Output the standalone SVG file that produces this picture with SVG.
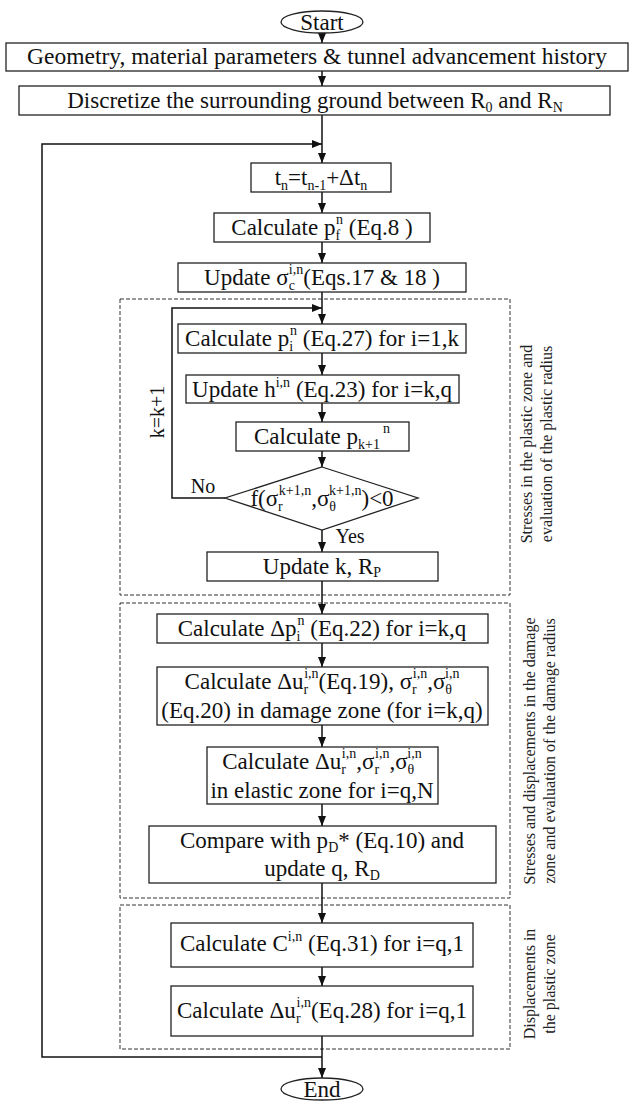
<svg xmlns="http://www.w3.org/2000/svg" width="633" height="1102" viewBox="0 0 633 1102">
<style>
text{font-family:"Liberation Serif","Times New Roman",serif;font-size:23px;fill:#111;text-anchor:middle}
.s{font-size:14px}
.lbl{font-size:20px}
.side{font-size:16px;fill:#222}
.box{fill:#fff;stroke:#222;stroke-width:1.3}
.dash{fill:none;stroke:#333;stroke-width:1;stroke-dasharray:4,2}
.con{fill:none;stroke:#111;stroke-width:1.5}
</style>
<defs>
<marker id="ah" markerUnits="userSpaceOnUse" markerWidth="10" markerHeight="8" refX="10" refY="4" orient="auto">
<path d="M0,0 L10,4 L0,8 z" fill="#111"/>
</marker>
</defs>

<g id="zones">
<rect class="dash" x="120" y="299" width="390" height="296"/>
<rect class="dash" x="120" y="603" width="390" height="295"/>
<rect class="dash" x="120" y="905" width="390" height="144"/>
</g>

<g id="connectors">
<path class="con" d="M322,33 V43" marker-end="url(#ah)"/>
<path class="con" d="M322,71 V86" marker-end="url(#ah)"/>
<path class="con" d="M322,115 V163" marker-end="url(#ah)"/>
<path class="con" d="M322,1057 H42 V144 H322" marker-end="url(#ah)"/>
<path class="con" d="M322,192 V213" marker-end="url(#ah)"/>
<path class="con" d="M322,242 V263" marker-end="url(#ah)"/>
<path class="con" d="M322,292 V324" marker-end="url(#ah)"/>
<path class="con" d="M225,498 H172 V308 H322" marker-end="url(#ah)"/>
<path class="con" d="M322,353 V375" marker-end="url(#ah)"/>
<path class="con" d="M322,403 V422" marker-end="url(#ah)"/>
<path class="con" d="M322,451 V467" marker-end="url(#ah)"/>
<path class="con" d="M322,530 V552" marker-end="url(#ah)"/>
<path class="con" d="M322,581 V614" marker-end="url(#ah)"/>
<path class="con" d="M322,643 V667" marker-end="url(#ah)"/>
<path class="con" d="M322,725 V747" marker-end="url(#ah)"/>
<path class="con" d="M322,804 V826" marker-end="url(#ah)"/>
<path class="con" d="M322,883 V923" marker-end="url(#ah)"/>
<path class="con" d="M322,967 V986" marker-end="url(#ah)"/>
<path class="con" d="M322,1036 V1078" marker-end="url(#ah)"/>
<text class="lbl" x="203" y="493">No</text>
<text class="lbl" x="350" y="543">Yes</text>
<text class="lbl" transform="translate(164,412) rotate(-90)">k=k+1</text>
</g>

<g id="start">
<ellipse class="box" cx="322" cy="22" rx="41" ry="11"/>
<text x="322" y="30">Start</text>
</g>

<g id="input">
<rect class="box" x="6" y="43" width="622" height="28"/>
<text x="317" y="64" style="font-size:23.5px">Geometry, material parameters &amp; tunnel advancement history</text>
</g>

<g id="discretize">
<rect class="box" x="19" y="86" width="591" height="29"/>
<text x="315" y="108">Discretize the surrounding ground between R<tspan class="s" dy="4">0</tspan><tspan dy="-4"> and R</tspan><tspan class="s" dy="4">N</tspan></text>
</g>

<g id="time">
<rect class="box" x="251" y="163" width="140" height="29"/>
<text x="321" y="185">t<tspan class="s" dy="5">n</tspan><tspan dy="-5">=t</tspan><tspan class="s" dy="5">n-1</tspan><tspan dy="-5">+Δt</tspan><tspan class="s" dy="5">n</tspan></text>
</g>

<g id="pf">
<rect class="box" x="214" y="213" width="216" height="29"/>
<text x="322" y="235">Calculate p<tspan class="s" dy="5">f</tspan><tspan class="s" dx="-4" dy="-16">n</tspan><tspan dy="11"> (Eq.8 )</tspan></text>
</g>

<g id="sigmac">
<rect class="box" x="178" y="263" width="288" height="29"/>
<text x="322" y="285">Update σ<tspan class="s" dy="5">c</tspan><tspan class="s" dx="-6" dy="-16">i,n</tspan><tspan dy="11">(Eqs.17 &amp; 18 )</tspan></text>
</g>

<g id="pi">
<rect class="box" x="178" y="324" width="288" height="29"/>
<text x="322" y="346">Calculate p<tspan class="s" dy="5">i</tspan><tspan class="s" dx="-3" dy="-16">n</tspan><tspan dy="11"> (Eq.27) for i=1,k</tspan></text>
</g>

<g id="h">
<rect class="box" x="186" y="375" width="273" height="28"/>
<text x="322" y="397">Update h<tspan class="s" dy="-10">i,n</tspan><tspan dy="10"> (Eq.23) for i=k,q</tspan></text>
</g>

<g id="pk1">
<rect class="box" x="236" y="422" width="173" height="29"/>
<text x="322" y="444">Calculate p<tspan class="s" dy="5">k+1</tspan><tspan class="s" dx="3" dy="-16">n</tspan></text>
</g>

<g id="decision">
<polygon class="box" points="322,467 418,498 322,530 225,498"/>
<text x="322" y="506">f(σ<tspan class="s" dy="5">r</tspan><tspan class="s" dx="-4" dy="-16">k+1,n</tspan><tspan dy="11">,σ</tspan><tspan class="s" dy="5">θ</tspan><tspan class="s" dx="-7" dy="-16">k+1,n</tspan><tspan dy="11">)&lt;0</tspan></text>
</g>

<g id="updatek">
<rect class="box" x="207" y="552" width="231" height="29"/>
<text x="322" y="574">Update k, R<tspan class="s" dy="3">P</tspan></text>
</g>

<g id="dpi">
<rect class="box" x="157" y="614" width="331" height="29"/>
<text x="322" y="636">Calculate Δp<tspan class="s" dy="5">i</tspan><tspan class="s" dx="-3" dy="-16">n</tspan><tspan dy="11"> (Eq.22) for i=k,q</tspan></text>
</g>

<g id="damage">
<rect class="box" x="157" y="667" width="331" height="58"/>
<text x="322" y="689">Calculate Δu<tspan class="s" dy="5">r</tspan><tspan class="s" dx="-4" dy="-16">i,n</tspan><tspan dy="11">(Eq.19), σ</tspan><tspan class="s" dy="5">r</tspan><tspan class="s" dx="-4" dy="-16">i,n</tspan><tspan dy="11">,σ</tspan><tspan class="s" dy="5">θ</tspan><tspan class="s" dx="-7" dy="-16">i,n</tspan></text>
<text x="322" y="718">(Eq.20) in damage zone (for i=k,q)</text>
</g>

<g id="elastic">
<rect class="box" x="207" y="747" width="231" height="57"/>
<text x="322" y="769">Calculate Δu<tspan class="s" dy="5">r</tspan><tspan class="s" dx="-4" dy="-16">i,n</tspan><tspan dy="11">,σ</tspan><tspan class="s" dy="5">r</tspan><tspan class="s" dx="-4" dy="-16">i,n</tspan><tspan dy="11">,σ</tspan><tspan class="s" dy="5">θ</tspan><tspan class="s" dx="-7" dy="-16">i,n</tspan></text>
<text x="322" y="798">in elastic zone for i=q,N</text>
</g>

<g id="compare">
<rect class="box" x="149" y="826" width="347" height="57"/>
<text x="322" y="848">Compare with p<tspan class="s" dy="4">D</tspan><tspan dy="-4">* (Eq.10) and</tspan></text>
<text x="322" y="876">update q, R<tspan class="s" dy="4">D</tspan></text>
</g>

<g id="cin">
<rect class="box" x="171" y="923" width="302" height="44"/>
<text x="322" y="951">Calculate C<tspan class="s" dy="-10">i,n</tspan><tspan dy="10"> (Eq.31) for i=q,1</tspan></text>
</g>

<g id="dur">
<rect class="box" x="171" y="986" width="302" height="50"/>
<text x="322" y="1018">Calculate Δu<tspan class="s" dy="5">r</tspan><tspan class="s" dx="-4" dy="-16">i,n</tspan><tspan dy="11">(Eq.28) for i=q,1</tspan></text>
</g>

<g id="end">
<ellipse class="box" cx="322" cy="1089" rx="41" ry="11"/>
<text x="322" y="1097">End</text>
</g>

<g id="side-labels">
<text class="side" transform="translate(532,444) rotate(-90)"><tspan x="0" y="0">Stresses in the plastic zone and</tspan><tspan x="0" y="20">evaluation of the plastic radius</tspan></text>
<text class="side" transform="translate(535,751) rotate(-90)"><tspan x="0" y="0">Stresses and displacements in the damage</tspan><tspan x="0" y="20">zone and evaluation of the damage radius</tspan></text>
<text class="side" transform="translate(535,984) rotate(-90)"><tspan x="0" y="0">Displacements in</tspan><tspan x="0" y="20">the plastic zone</tspan></text>
</g>
</svg>
